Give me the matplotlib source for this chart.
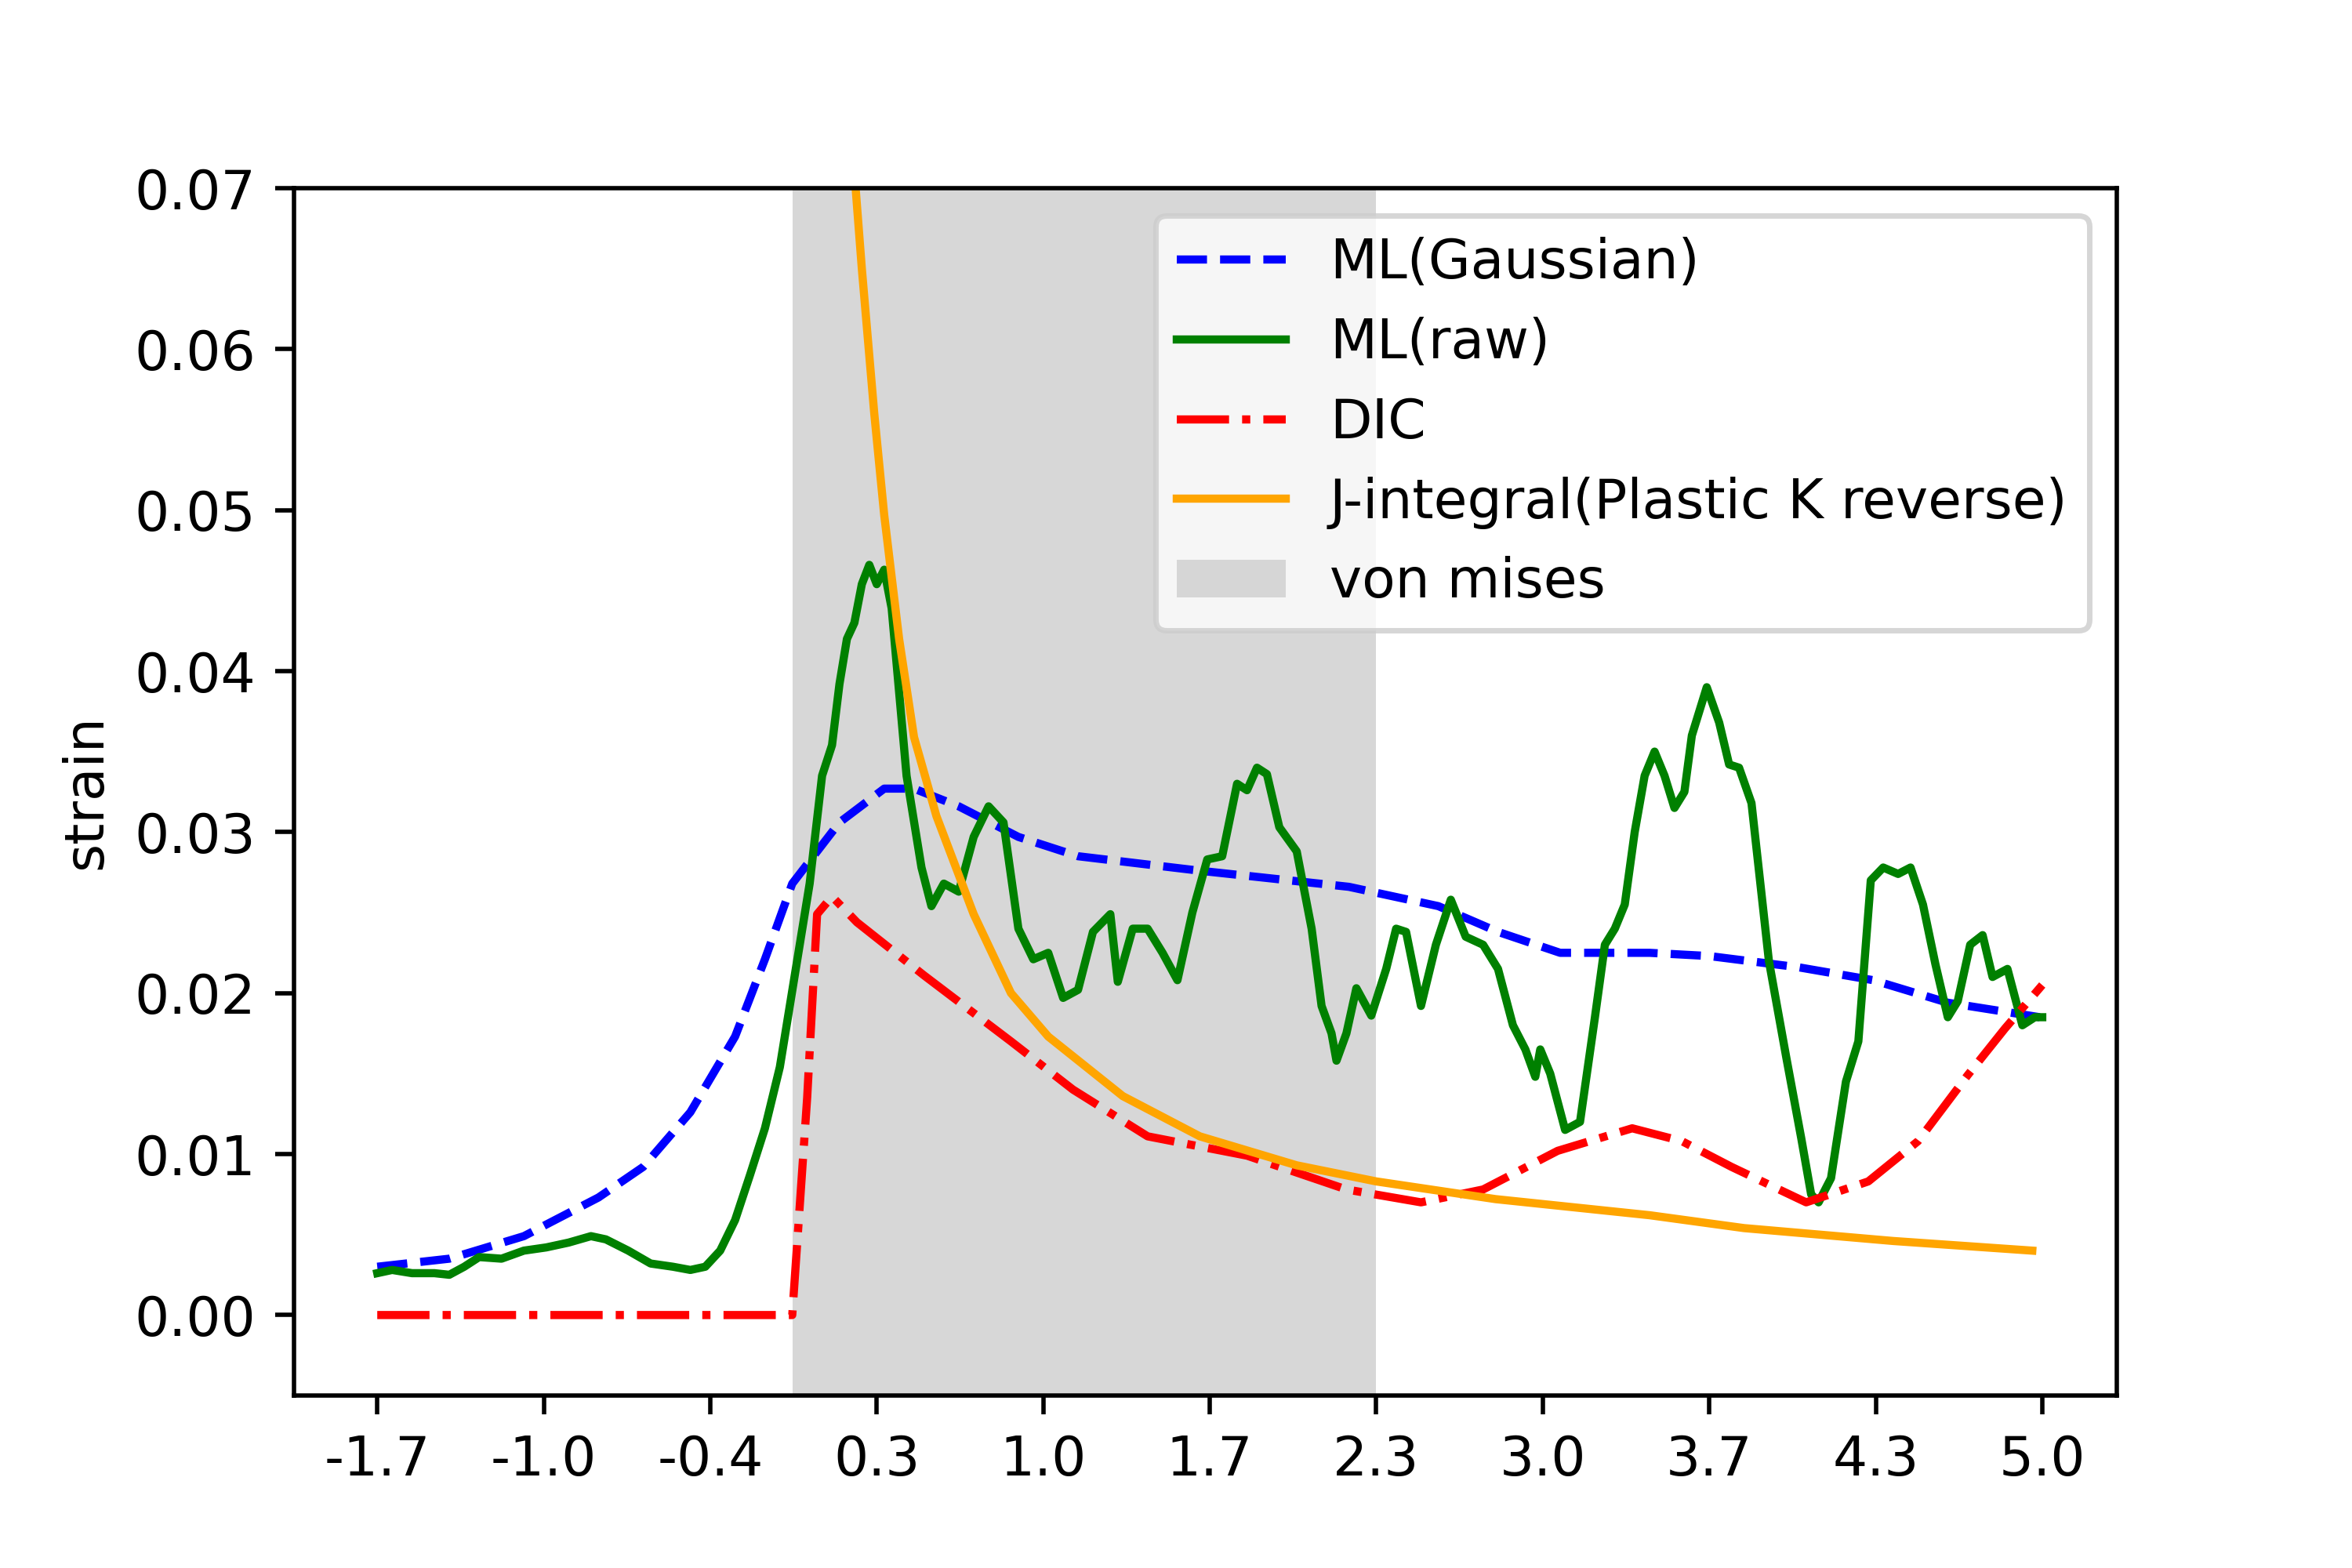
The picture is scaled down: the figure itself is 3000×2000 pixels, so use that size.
import numpy as np
import matplotlib
matplotlib.use("Agg")
import matplotlib.pyplot as plt

gauss_x = [-1.70,-1.41,-1.11,-0.81,-0.63,-0.44,-0.26,-0.14,-0.03,0.16,0.34,0.46,0.64,0.88,1.12,1.61,2.21,2.57,2.81,3.06,3.42,3.66,4.02,4.32,4.62,4.99]
gauss_y = [0.0030,0.0035,0.0049,0.0073,0.0092,0.0126,0.0173,0.0221,0.0268,0.0306,0.0327,0.0327,0.0316,0.0297,0.0285,0.0276,0.0266,0.0254,0.0238,0.0225,0.0225,0.0223,0.0216,0.0208,0.0194,0.0185]

raw_x = [-1.70,-1.64,-1.56,-1.47,-1.41,-1.35,-1.29,-1.20,-1.11,-1.02,-0.93,-0.84,-0.78,-0.69,-0.60,-0.51,-0.44,-0.38,-0.32,-0.26,-0.20,-0.14,-0.08,-0.02,0.04,0.09,0.13,0.16,0.19,0.22,0.25,0.28,0.31,0.34,0.37,0.43,0.49,0.53,0.58,0.64,0.70,0.76,0.82,0.88,0.94,1.00,1.06,1.12,1.18,1.25,1.28,1.34,1.40,1.46,1.52,1.58,1.64,1.70,1.76,1.80,1.84,1.88,1.93,2.00,2.06,2.10,2.14,2.16,2.20,2.24,2.30,2.36,2.40,2.44,2.50,2.56,2.62,2.68,2.75,2.81,2.87,2.92,2.96,2.98,3.02,3.08,3.14,3.20,3.24,3.28,3.32,3.36,3.40,3.44,3.48,3.52,3.56,3.59,3.65,3.70,3.74,3.78,3.83,3.90,3.97,4.03,4.07,4.10,4.15,4.21,4.26,4.31,4.36,4.42,4.47,4.52,4.57,4.62,4.66,4.71,4.76,4.80,4.86,4.92,4.97,5.00]
raw_y = [0.0026,0.0028,0.0026,0.0026,0.0025,0.0030,0.0036,0.0035,0.0040,0.0042,0.0045,0.0049,0.0047,0.0040,0.0032,0.0030,0.0028,0.0030,0.0040,0.0059,0.0087,0.0116,0.0154,0.0211,0.0268,0.0335,0.0354,0.0392,0.0420,0.0430,0.0454,0.0466,0.0454,0.0463,0.0439,0.0335,0.0278,0.0254,0.0268,0.0263,0.0297,0.0316,0.0306,0.0240,0.0221,0.0225,0.0197,0.0202,0.0238,0.0249,0.0207,0.0240,0.0240,0.0225,0.0208,0.0250,0.0283,0.0285,0.0330,0.0326,0.0340,0.0336,0.0303,0.0288,0.0240,0.0192,0.0175,0.0158,0.0175,0.0203,0.0186,0.0215,0.0240,0.0238,0.0192,0.0230,0.0258,0.0235,0.0230,0.0215,0.0180,0.0165,0.0148,0.0165,0.0150,0.0115,0.0120,0.0185,0.0230,0.0240,0.0255,0.0300,0.0335,0.0350,0.0335,0.0315,0.0325,0.0360,0.0390,0.0368,0.0342,0.0340,0.0318,0.0220,0.0160,0.0110,0.0075,0.0070,0.0085,0.0145,0.0170,0.0270,0.0278,0.0274,0.0278,0.0255,0.0218,0.0185,0.0195,0.0230,0.0236,0.0210,0.0215,0.0180,0.0185,0.0185]

dic_x = [-1.70,-0.03,0.03,0.07,0.13,0.23,0.50,0.85,1.10,1.40,1.80,2.20,2.50,2.75,3.05,3.35,3.55,3.75,4.05,4.30,4.50,4.70,4.85,5.00]
dic_y = [0.0,0.0,0.0135,0.0249,0.0260,0.0244,0.0211,0.0170,0.0140,0.0111,0.0099,0.0078,0.0070,0.0078,0.0102,0.0116,0.0108,0.0092,0.0070,0.0083,0.0108,0.0149,0.0178,0.0205]

j_x = [0.20,0.25,0.30,0.34,0.40,0.46,0.55,0.70,0.85,1.00,1.30,1.61,2.00,2.32,2.80,3.42,3.80,4.40,4.96]
j_y = [0.075,0.065,0.056,0.0497,0.042,0.0359,0.031,0.0249,0.020,0.0173,0.0136,0.0111,0.0093,0.0083,0.0072,0.0062,0.0054,0.0046,0.0040]

vm_span = (-0.03, 2.32)
tick_vals = np.linspace(-1.7, 5.0, 11)

fig, ax = plt.subplots(figsize=(6, 4), dpi=500)
ax.axvspan(*vm_span, color='lightgrey', alpha=0.9, lw=0, label='von mises')
ax.plot(gauss_x, gauss_y, 'b--', label='ML(Gaussian)')
ax.plot(raw_x, raw_y, color='green', label='ML(raw)')
ax.plot(dic_x, dic_y, 'r-.', label='DIC')
ax.plot(j_x, j_y, color='orange', label='J-integral(Plastic K reverse)')
ax.set_ylim(-0.005, 0.07)
ax.set_xlim(-2.035, 5.3)
ax.set_xticks(tick_vals)
ax.set_xticklabels([f"{v:.1f}" for v in tick_vals])
ax.set_ylabel('strain')
h, l = ax.get_legend_handles_labels()
ax.legend(h[1:] + h[:1], l[1:] + l[:1], loc='upper right')
fig.savefig('out.png')
